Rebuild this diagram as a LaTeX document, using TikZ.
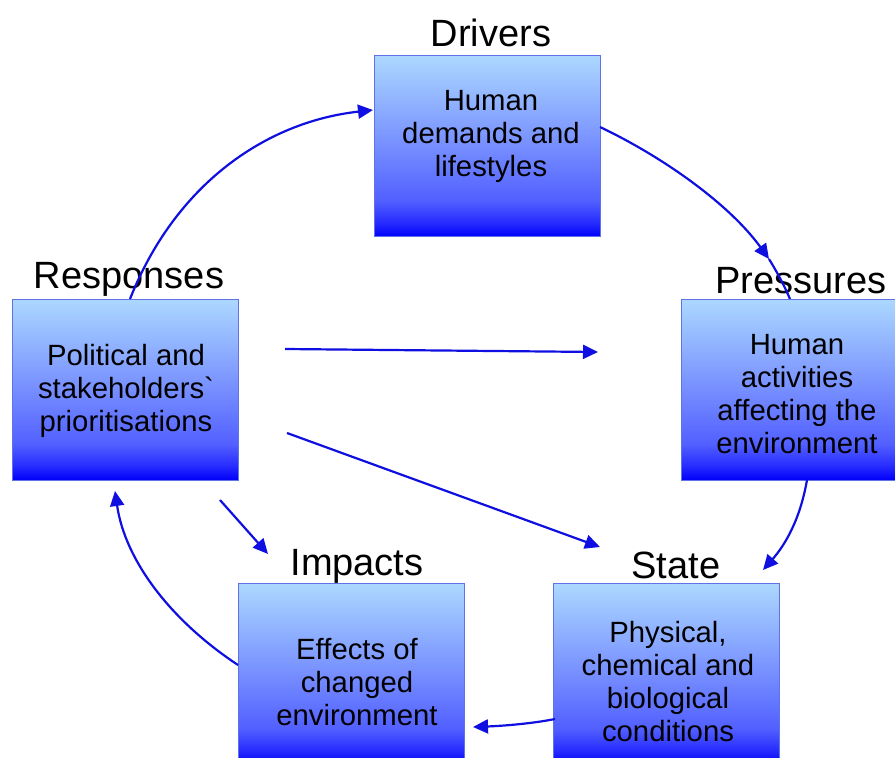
\documentclass[tikz,border=0pt]{standalone}
\usepackage{fontspec}
\setmainfont{Liberation Sans}
\usetikzlibrary{arrows.meta}
\definecolor{arrblue}{RGB}{15,15,225}
\definecolor{boxedge}{RGB}{95,115,230}
\definecolor{shA}{RGB}{0,0,250}
\definecolor{shB}{RGB}{40,45,255}
\definecolor{shC}{RGB}{82,96,255}
\definecolor{shD}{RGB}{118,142,255}
\definecolor{shE}{RGB}{172,216,255}
\pgfdeclareverticalshading{dpsirshade}{100bp}{color(0bp)=(shA); color(25bp)=(shA); color(29bp)=(shB); color(35bp)=(shC); color(50bp)=(shD); color(75bp)=(shE); color(100bp)=(shE)}
\begin{document}
\begin{tikzpicture}[x=1pt,y=-1pt,
  box/.style={draw=boxedge, line width=1pt, shading=dpsirshade, minimum width=226pt, minimum height=181pt, inner sep=0pt},
  title/.style={font=\fontsize{38}{42}\selectfont, anchor=base, inner sep=0pt},
  body/.style={font=\fontsize{29.3}{33}\selectfont, align=center, inner sep=0pt},
  conn/.style={draw=arrblue, line width=2.2pt},
  arr/.style={conn, -{Triangle[length=15pt,width=14pt]}}]
\clip (0,0) rectangle (895,758);
% boxes
\node[box] (drv) at (487,146) {};
\node[box] (prs) at (794,389.5) {};
\node[box] (rsp) at (125.5,389.5) {};
\node[box] (imp) at (351,674) {};
\node[box] (sta) at (666.5,674) {};
% titles
\node[title] (tdrv) at (491,46) {Drivers};
\node[title] (tprs) at (801,293) {Pressures};
\node[title] (trsp) at (129,288) {Responses};
\node[title] (timp) at (357,575) {Impacts};
\node[title] (tsta) at (676,578) {State};
% body texts
\node[body] (bdrv) at (491,136) {Human\\demands and\\lifestyles};
\node[body] (bprs) at (797,394) {Human\\activities\\affecting the\\environment};
\node[body] (brsp) at (126,391) {Political and\\stakeholders\textasciigrave\\prioritisations};
\node[body] (bimp) at (357,682) {Effects of\\changed\\environment};
\node[body] (bsta) at (668,682) {Physical,\\chemical and\\biological\\conditions};
% connector end points
\coordinate (r1) at (130,299);
\coordinate (d1) at (373,110);
\coordinate (d2) at (600,127);
\coordinate (pmid) at (769,259);
\coordinate (p1) at (790,299);
\coordinate (p2) at (807,480);
\coordinate (s1) at (763,570);
\coordinate (s2) at (555,719);
\coordinate (i1) at (473,727);
\coordinate (i2) at (238,665);
\coordinate (r2) at (115,491);
\coordinate (r3) at (285,349);
\coordinate (p3) at (598,352);
\coordinate (r4) at (287,433);
\coordinate (s3) at (600,547);
\coordinate (r5) at (220,500);
\coordinate (i3) at (268,554);
% cycle
\draw[arr] (r1) .. controls (175,185) and (265,122) .. (d1);
\draw[arr] (d2) .. controls (665,158) and (730,205) .. (pmid);
\draw[conn] (pmid) .. controls (777,272) and (784,285) .. (p1);
\draw[arr] (p2) .. controls (800,520) and (785,545) .. (s1);
\draw[arr] (s2) .. controls (530,724) and (500,726) .. (i1);
\draw[arr] (i2) .. controls (170,620) and (125,560) .. (r2);
% responses
\draw[arr] (r3) -- (p3);
\draw[arr] (r4) -- (s3);
\draw[arr] (r5) -- (i3);
\end{tikzpicture}
\end{document}
